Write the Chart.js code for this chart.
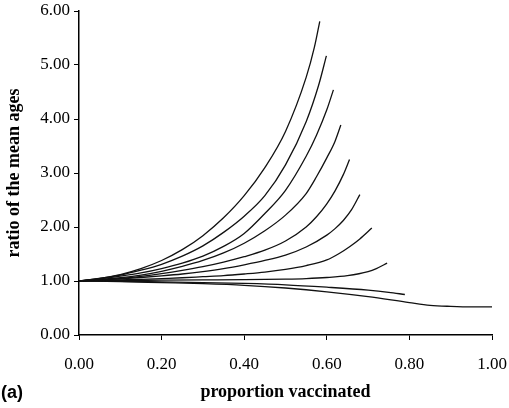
<!DOCTYPE html>
<html>
<head>
<meta charset="utf-8">
<script src="https://cdn.jsdelivr.net/npm/chart.js@4/dist/chart.umd.min.js"></script>
<style>
  html, body { margin: 0; padding: 0; background: #fff; }
  #wrap { width: 509px; height: 408px; position: relative; }
</style>
</head>
<body>
<div id="wrap"><canvas id="c" width="509" height="408"></canvas></div>
<script>
// Curves (x = proportion vaccinated, y = ratio of the mean ages)
const c1x = [0, 0.05, 0.1, 0.15, 0.2, 0.25, 0.3, 0.35, 0.4, 0.45, 0.5, 0.55, 0.57, 0.583];
const c1y = [1, 1.05, 1.12, 1.23, 1.38, 1.58, 1.84, 2.17, 2.58, 3.10, 3.77, 4.77, 5.33, 5.81];
const c2x = [0, 0.05, 0.1, 0.15, 0.2, 0.25, 0.3, 0.35, 0.4, 0.45, 0.5, 0.55, 0.58, 0.599];
const c2y = [1, 1.05, 1.11, 1.20, 1.31, 1.46, 1.65, 1.90, 2.20, 2.58, 3.15, 3.95, 4.62, 5.17];
const c3x = [0, 0.05, 0.1, 0.15, 0.2, 0.25, 0.3, 0.35, 0.4, 0.45, 0.5, 0.55, 0.575, 0.6, 0.616];
const c3y = [1, 1.04, 1.09, 1.15, 1.23, 1.33, 1.46, 1.64, 1.88, 2.25, 2.68, 3.31, 3.70, 4.17, 4.54];
const c4x = [0, 0.05, 0.1, 0.15, 0.2, 0.25, 0.3, 0.35, 0.4, 0.45, 0.5, 0.55, 0.575, 0.6, 0.62, 0.634];
const c4y = [1, 1.03, 1.06, 1.11, 1.18, 1.27, 1.38, 1.52, 1.70, 1.93, 2.22, 2.62, 2.93, 3.28, 3.59, 3.89];
const c5x = [0, 0.05, 0.1, 0.15, 0.2, 0.25, 0.3, 0.35, 0.4, 0.45, 0.5, 0.55, 0.575, 0.6, 0.62, 0.64, 0.655];
const c5y = [1, 1.02, 1.045, 1.085, 1.135, 1.195, 1.265, 1.35, 1.45, 1.57, 1.74, 2.00, 2.19, 2.43, 2.67, 2.97, 3.25];
const c6x = [0, 0.05, 0.1, 0.15, 0.2, 0.25, 0.3, 0.35, 0.4, 0.45, 0.5, 0.55, 0.6, 0.62, 0.64, 0.66, 0.68];
const c6y = [1, 1.02, 1.04, 1.065, 1.095, 1.13, 1.175, 1.23, 1.30, 1.38, 1.48, 1.63, 1.85, 1.97, 2.12, 2.32, 2.60];
const c7x = [0, 0.05, 0.1, 0.15, 0.2, 0.25, 0.3, 0.35, 0.4, 0.45, 0.5, 0.55, 0.6, 0.63, 0.656, 0.68, 0.709];
const c7y = [1, 1.01, 1.02, 1.03, 1.045, 1.06, 1.08, 1.10, 1.13, 1.165, 1.215, 1.285, 1.39, 1.51, 1.64, 1.78, 1.98];
const c8x = [0, 0.1, 0.2, 0.3, 0.4, 0.5, 0.55, 0.6, 0.65, 0.7, 0.72, 0.746];
const c8y = [1, 1.01, 1.015, 1.02, 1.025, 1.035, 1.045, 1.065, 1.10, 1.175, 1.23, 1.33];
const c9x = [0, 0.1, 0.2, 0.3, 0.4, 0.5, 0.6, 0.7, 0.75, 0.789];
const c9y = [1, 0.995, 0.985, 0.97, 0.955, 0.93, 0.885, 0.83, 0.79, 0.75];
const c10x = [0, 0.1, 0.2, 0.3, 0.4, 0.5, 0.6, 0.7, 0.8, 0.85, 0.9, 0.95, 1.0];
const c10y = [1, 0.99, 0.97, 0.95, 0.92, 0.87, 0.80, 0.71, 0.60, 0.55, 0.53, 0.52, 0.52];

const xTicks = [0, 0.2, 0.4, 0.6, 0.8, 1.0];
const yTicks = [0, 1, 2, 3, 4, 5, 6];
const xTitle = 'proportion vaccinated';
const yTitle = 'ratio of the mean ages';
const panelLabel = '(a)';

const curves = [[c1x,c1y],[c2x,c2y],[c3x,c3y],[c4x,c4y],[c5x,c5y],
                [c6x,c6y],[c7x,c7y],[c8x,c8y],[c9x,c9y],[c10x,c10y]];

const datasets = curves.map(([xs, ys]) => ({
  data: xs.map((x, i) => ({x: x, y: ys[i]})),
  borderColor: '#111',
  borderWidth: 1.3,
  pointRadius: 0,
  fill: false,
  cubicInterpolationMode: 'monotone'
}));

const serif = "'Liberation Serif', 'Times New Roman', serif";

const panelPlugin = {
  id: 'panelLabel',
  afterDraw(chart) {
    const ctx = chart.ctx;
    ctx.save();
    ctx.fillStyle = '#000';
    ctx.font = "bold 18px 'Liberation Sans', Arial, sans-serif";
    ctx.textBaseline = 'middle';
    ctx.textAlign = 'left';
    ctx.fillText(panelLabel, 1, 393);
    ctx.restore();
  }
};

new Chart(document.getElementById('c'), {
  type: 'line',
  data: { datasets },
  options: {
    responsive: false,
    animation: false,
    events: [],
    layout: { padding: { top: 11, right: 17, bottom: 0, left: 0 } },
    plugins: { legend: { display: false }, tooltip: { enabled: false } },
    scales: {
      x: {
        type: 'linear',
        min: 0, max: 1,
        afterBuildTicks: s => { s.ticks = xTicks.map(v => ({value: v})); },
        afterFit: s => { s.height = 73; s.paddingLeft = 0; s.paddingRight = 0; },
        grid: { drawOnChartArea: false, drawTicks: true, tickLength: 5, color: '#000', lineWidth: 1 },
        border: { display: true, color: '#000', width: 1.5 },
        ticks: {
          color: '#000',
          padding: 14,
          font: { family: serif, size: 17 },
          callback: v => Number(v).toFixed(2),
          maxRotation: 0
        },
        title: {
          display: true, text: xTitle, color: '#000',
          font: { family: serif, size: 18, weight: 'bold' },
          padding: { top: 0, bottom: 5 }
        }
      },
      y: {
        type: 'linear',
        min: 0, max: 6,
        afterBuildTicks: s => { s.ticks = yTicks.map(v => ({value: v})); },
        afterFit: s => { s.width = 79; s.paddingTop = 0; s.paddingBottom = 0; },
        grid: { drawOnChartArea: false, drawTicks: true, tickLength: 5, color: '#000', lineWidth: 1 },
        border: { display: true, color: '#000', width: 1.5 },
        ticks: {
          color: '#000',
          padding: 4,
          font: { family: serif, size: 17 },
          callback: v => Number(v).toFixed(2)
        },
        title: {
          display: true, text: yTitle, color: '#000',
          font: { family: serif, size: 18, weight: 'bold' },
          padding: { top: 4, bottom: 0 }
        }
      }
    }
  },
  plugins: [panelPlugin]
});
</script>
</body>
</html>
